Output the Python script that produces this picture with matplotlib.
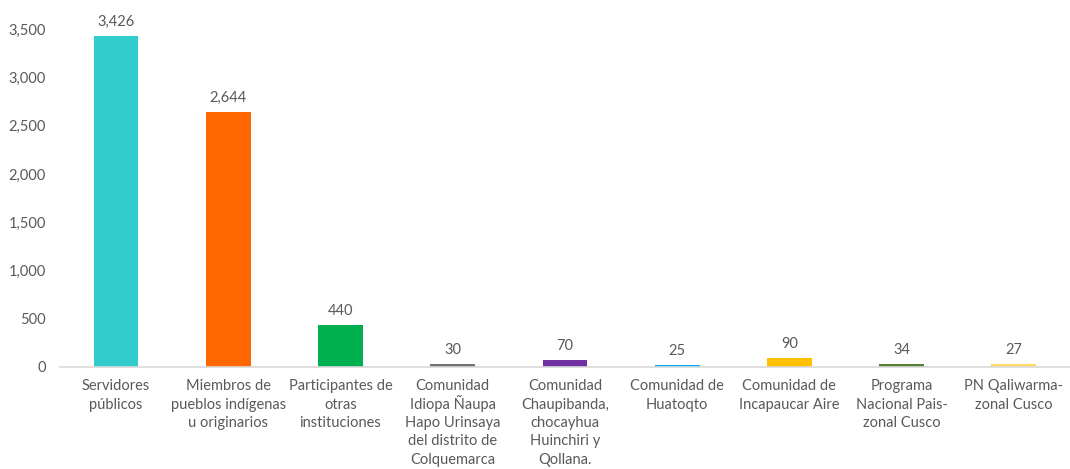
import matplotlib
matplotlib.use("Agg")
import matplotlib.pyplot as plt
from matplotlib.ticker import FuncFormatter

plt.rcParams['font.family'] = ['Lato', 'DejaVu Sans']

categories = [
    "Servidores\npúblicos",
    "Miembros de\npueblos indígenas\nu originarios",
    "Participantes de\notras\ninstituciones",
    "Comunidad\nIdiopa Ñaupa\nHapo Urinsaya\ndel distrito de\nColquemarca",
    "Comunidad\nChaupibanda,\nchocayhua\nHuinchiri y\nQollana.",
    "Comunidad de\nHuatoqto",
    "Comunidad de\nIncapaucar Aire",
    "Programa\nNacional Pais-\nzonal Cusco",
    "PN Qaliwarma-\nzonal Cusco",
]
values = [3426, 2644, 440, 30, 70, 25, 90, 34, 27]
colors = ["#33CCCC", "#FF6600", "#00B050", "#767171", "#7030A0",
          "#00B0F0", "#FFC000", "#548235", "#FFD966"]

txt = "#595959"

fig = plt.figure(figsize=(10.7, 4.69), dpi=100)
ax = fig.add_axes([0.056, 0.2175, 0.944, 0.7205])

x = range(len(values))
bars = ax.bar(x, values, width=0.4, color=colors)
for b, v in zip(bars, values):
    ax.annotate(f"{v:,}", (b.get_x() + b.get_width() / 2, v),
                xytext=(0, 5), textcoords="offset points",
                ha="center", va="bottom", fontsize=10.5, color=txt)

ax.set_xlim(-0.5, len(values) - 0.5)
ax.set_ylim(0, 3500)
ax.set_yticks(range(0, 3501, 500))
ax.yaxis.set_major_formatter(FuncFormatter(lambda v, p: f"{int(v):,}"))
ax.set_xticks([])
ax.tick_params(axis="y", labelsize=10.5, labelcolor=txt, length=0, pad=10)

# category labels line by line so every line sits on the same baseline grid
for i, lab in enumerate(categories):
    for j, line in enumerate(lab.split("\n")):
        ax.annotate(line, (i, 0), xycoords=("data", "axes fraction"),
                    xytext=(0, -16.6 - 13.3 * j), textcoords="offset points",
                    ha="center", va="baseline", fontsize=10.5, color=txt,
                    annotation_clip=False)

for s in ["top", "right", "left"]:
    ax.spines[s].set_visible(False)
ax.spines["bottom"].set_color("#D9D9D9")
ax.spines["bottom"].set_linewidth(1.2)

fig.savefig("out.png", dpi=100)
